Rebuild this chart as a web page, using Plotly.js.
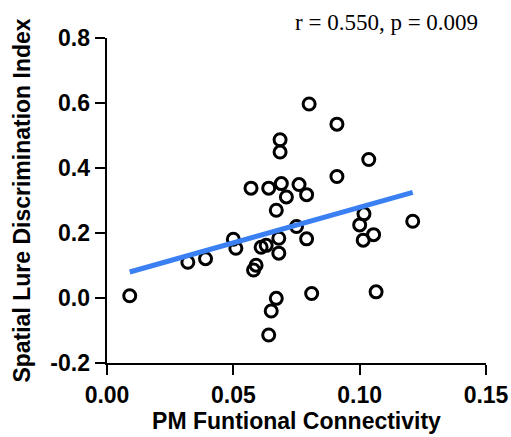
<!DOCTYPE html>
<html>
<head>
<meta charset="utf-8">
<script src="https://cdn.plot.ly/plotly-3.0.1.min.js"></script>
<style>html,body{margin:0;padding:0;background:#fff;}#chart{width:511px;height:437px;}</style>
</head>
<body>
<div id="chart"></div>
<script>
// PM functional connectivity (x) vs spatial lure discrimination index (y)
const connectivity = [0.009, 0.032, 0.039, 0.050, 0.051, 0.057, 0.064, 0.069, 0.076, 0.071, 0.079, 0.067,
  0.075, 0.079, 0.068, 0.061, 0.063, 0.068, 0.059, 0.058, 0.067, 0.065, 0.064, 0.081, 0.1065, 0.080,
  0.091, 0.0685, 0.0685, 0.1036, 0.091, 0.1017, 0.100, 0.1055, 0.1014, 0.121];
const lureIndex = [0.007, 0.110, 0.121, 0.181, 0.153, 0.338, 0.338, 0.352, 0.349, 0.311, 0.318, 0.270,
  0.220, 0.182, 0.184, 0.156, 0.162, 0.138, 0.101, 0.086, -0.001, -0.040, -0.114, 0.014, 0.019, 0.597,
  0.535, 0.487, 0.449, 0.426, 0.374, 0.259, 0.225, 0.195, 0.178, 0.236];
// regression line endpoints
const fitX = [0.009, 0.121];
const fitY = [0.080, 0.325];
const xTicks = [0.00, 0.05, 0.10, 0.15];
const xTickText = ['0.00', '0.05', '0.10', '0.15'];
const yTicks = [-0.2, 0.0, 0.2, 0.4, 0.6, 0.8];
const yTickText = ['-0.2', '0.0', '0.2', '0.4', '0.6', '0.8'];
const statsText = 'r = 0.550, p = 0.009';

const sans = 'Liberation Sans, Arial, sans-serif';
const traces = [
  {
    x: connectivity, y: lureIndex, type: 'scatter', mode: 'markers',
    marker: {symbol: 'circle-open', size: 12, color: '#000', line: {width: 3, color: '#000'}},
    cliponaxis: false, hoverinfo: 'skip'
  },
  {
    x: fitX, y: fitY, type: 'scatter', mode: 'lines',
    line: {color: '#3b80f2', width: 5}, hoverinfo: 'skip'
  }
];
const axisCommon = {
  showgrid: false, zeroline: false, showline: true, linecolor: '#000', linewidth: 2.4,
  ticks: 'outside', ticklen: 10, tickwidth: 2.2, tickcolor: '#000',
  tickfont: {family: sans, size: 23, color: '#000', weight: 'bold'},
  tickmode: 'array', fixedrange: true
};
const layout = {
  width: 511, height: 437,
  margin: {l: 106.5, r: 25.3, t: 38.3, b: 73.7},
  paper_bgcolor: '#fff', plot_bgcolor: '#fff',
  showlegend: false,
  xaxis: Object.assign({}, axisCommon, {
    range: [0, 0.15], tickvals: xTicks, ticktext: xTickText,
    title: {text: 'PM Funtional Connectivity', standoff: 6, font: {family: sans, size: 23, color: '#000', weight: 'bold'}}
  }),
  yaxis: Object.assign({}, axisCommon, {
    range: [-0.2, 0.8], tickvals: yTicks, ticktext: yTickText,
    title: {text: 'Spatial Lure Discrimination Index', standoff: 14, font: {family: sans, size: 23, color: '#000', weight: 'bold'}}
  }),
  annotations: [{
    text: statsText, xref: 'paper', yref: 'paper', x: 0.985, y: 1.047,
    xanchor: 'right', yanchor: 'middle', showarrow: false,
    font: {family: 'Liberation Serif, Times New Roman, serif', size: 23, color: '#000'}
  }]
};
Plotly.newPlot('chart', traces, layout, {staticPlot: true, displayModeBar: false});
</script>
</body>
</html>
